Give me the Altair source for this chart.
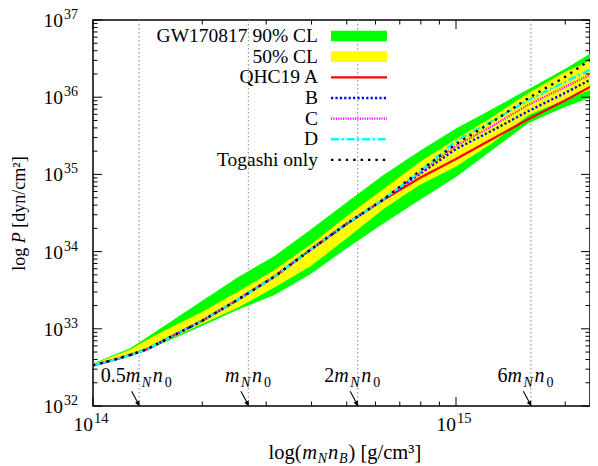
import math
import altair as alt
import pandas as pd

# ---------------- values ----------------
# log10 of mass density [g/cm^3]
log_rho = [14.00, 14.05, 14.10, 14.15, 14.20, 14.30, 14.40, 14.50, 14.60,
           14.70, 14.80, 14.90, 15.00, 15.10, 15.20, 15.30, 15.39]

# GW170817 bands, log10 P [dyn/cm^2]
gw90_lo = [32.525, 32.585, 32.654, 32.725, 32.829, 33.036, 33.250, 33.438, 33.710,
           34.047, 34.364, 34.668, 34.966, 35.316, 35.666, 35.873, 36.028]
gw90_hi = [32.551, 32.648, 32.742, 32.894, 33.049, 33.360, 33.671, 33.943, 34.286,
           34.642, 34.992, 35.303, 35.595, 35.847, 36.106, 36.365, 36.624]
gw50_lo = [32.526, 32.588, 32.655, 32.732, 32.842, 33.062, 33.276, 33.535, 33.813,
           34.176, 34.552, 34.863, 35.102, 35.407, 35.769, 35.964, 36.132]
gw50_hi = [32.544, 32.635, 32.725, 32.861, 32.984, 33.218, 33.483, 33.762, 34.092,
           34.461, 34.811, 35.161, 35.459, 35.744, 36.054, 36.326, 36.521]

# EOS curves, log10 P [dyn/cm^2]
qhc19_a = [32.527, 32.589, 32.657, 32.738, 32.861, 33.101, 33.380, 33.677, 34.027,
           34.364, 34.670, 34.953, 35.199, 35.459, 35.718, 35.957, 36.184]
qhc19_b = [32.527, 32.589, 32.657, 32.738, 32.861, 33.101, 33.380, 33.677, 34.027,
           34.364, 34.675, 35.005, 35.329, 35.569, 35.821, 36.054, 36.275]
qhc19_c = [32.527, 32.589, 32.657, 32.738, 32.861, 33.101, 33.380, 33.677, 34.027,
           34.364, 34.675, 35.018, 35.368, 35.627, 35.905, 36.132, 36.339]
qhc19_d = [32.527, 32.589, 32.657, 32.738, 32.861, 33.101, 33.380, 33.677, 34.027,
           34.364, 34.675, 35.031, 35.433, 35.692, 35.964, 36.197, 36.404]
togashi = [32.527, 32.589, 32.657, 32.738, 32.861, 33.101, 33.380, 33.677, 34.027,
           34.364, 34.675, 35.044, 35.394, 35.679, 35.990, 36.262, 36.547]

band_names = ["GW170817 90% CL", "50% CL"]
series_names = ["QHC19 A", "B", "C", "D", "Togashi only"]
series_values = [qhc19_a, qhc19_b, qhc19_c, qhc19_d, togashi]

mN_n0 = 2.68e14                      # g/cm^3
density_multiples = [0.5, 1, 2, 6]

x_major = [1e14, 1e15]
x_minor = [2e14, 3e14, 4e14, 5e14, 6e14, 7e14, 8e14, 9e14, 2e15]
y_major = [1e32, 1e33, 1e34, 1e35, 1e36, 1e37]
y_minor = [m * 10.0 ** e for e in range(32, 37) for m in range(2, 10)]

x_title_parts = ["log(", "m", "N", "n", "B", ") [g/cm³]"]
y_title_parts = ["log", "P", "[dyn/cm²]"]

# ---------------- styles / layout ----------------
FONT = "Liberation Serif"
W, H = 497, 386
PX_PER_DECADE = 363.0
x_max = 10 ** (14 + W / PX_PER_DECADE)
xs = alt.Scale(type="log", domain=[1e14, x_max])
ys = alt.Scale(type="log", domain=[1e32, 1e37])


def X(field):
    return alt.X(field, type="quantitative", scale=xs, axis=None)


def Y(field):
    return alt.Y(field, type="quantitative", scale=ys, axis=None)


line_styles = [
    dict(color="#ff0000", strokeWidth=2.3),
    dict(color="#0000ff", strokeWidth=2.4, strokeDash=[2.2, 2.2]),
    dict(color="#ff00ff", strokeWidth=2.2, strokeDash=[1.2, 1.2]),
    dict(color="#00ffff", strokeWidth=2.4, strokeDash=[8, 2.5, 2.5, 2.5]),
    dict(color="#000000", strokeWidth=2.4, strokeDash=[2.4, 5]),
]
band_colors = ["#00ff00", "#ffff00"]

rho = [10 ** v for v in log_rho]
band = pd.DataFrame({
    "rho": rho,
    "lo90": [10 ** v for v in gw90_lo], "hi90": [10 ** v for v in gw90_hi],
    "lo50": [10 ** v for v in gw50_lo], "hi50": [10 ** v for v in gw50_hi],
})

layers = []

# vertical reference densities
label_nudge_px = {0.5: 10.0}
dens = pd.DataFrame({
    "rho": [k * mN_n0 for k in density_multiples],
    "rho_lab": [k * mN_n0 * 10 ** (label_nudge_px.get(k, 0.0) / PX_PER_DECADE)
                for k in density_multiples],
    "prefix": ["" if k == 1 else f"{k:g}" for k in density_multiples],
})
layers.append(alt.Chart(dens).mark_rule(color="#9a9a9a", strokeDash=[1.5, 2.5], strokeWidth=1.2)
              .encode(x=X("rho")))

# bands
layers.append(alt.Chart(band).mark_area(color=band_colors[0], opacity=1, clip=True)
              .encode(x=X("rho"), y=Y("lo90"), y2="hi90:Q"))
layers.append(alt.Chart(band).mark_area(color=band_colors[1], opacity=1, clip=True)
              .encode(x=X("rho"), y=Y("lo50"), y2="hi50:Q"))

# EOS lines
for name, vals, st in zip(series_names, series_values, line_styles):
    df = pd.DataFrame({"rho": rho, "P": [10 ** v for v in vals], "series": name})
    layers.append(alt.Chart(df).mark_line(clip=True, **st).encode(x=X("rho"), y=Y("P")))


# inward ticks on all four sides
def x_ticks(vals, L):
    d = pd.DataFrame({"v": vals})
    return [alt.Chart(d).mark_rule(color="black", strokeWidth=1)
            .encode(x=X("v"), y=alt.value(y0), y2=alt.value(y1))
            for y0, y1 in [(H, H - L), (0, L)]]


def y_ticks(vals, L):
    d = pd.DataFrame({"v": vals})
    return [alt.Chart(d).mark_rule(color="black", strokeWidth=1)
            .encode(y=Y("v"), x=alt.value(x0), x2=alt.value(x1))
            for x0, x1 in [(0, L), (W, W - L)]]


layers += x_ticks(x_major, 9) + x_ticks(x_minor, 4.5)
layers += y_ticks(y_major, 9) + y_ticks(y_minor, 4.5)

# tick labels 10^k composed of base and raised exponent
xl = pd.DataFrame({"v": x_major, "e": [str(round(math.log10(v))) for v in x_major]})
yl = pd.DataFrame({"v": y_major, "e": [str(round(math.log10(v))) for v in y_major]})
layers.append(alt.Chart(xl).mark_text(align="right", baseline="alphabetic", font=FONT,
                                      fontSize=19.5, color="black")
              .encode(x=X("v"), y=alt.value(H + 24.5), text=alt.value("10")))
layers.append(alt.Chart(xl).mark_text(align="left", baseline="alphabetic", dx=1, font=FONT,
                                      fontSize=14.5, color="black")
              .encode(x=X("v"), y=alt.value(H + 16.5), text="e:N"))
layers.append(alt.Chart(yl).mark_text(align="right", baseline="middle", font=FONT,
                                      fontSize=19.5, color="black", dy=1)
              .encode(y=Y("v"), x=alt.value(-30), text=alt.value("10")))
layers.append(alt.Chart(yl).mark_text(align="right", baseline="middle", font=FONT,
                                      fontSize=14, color="black", dy=-5)
              .encode(y=Y("v"), x=alt.value(-15), text="e:N"))

# density labels  (prefix + m_N n_0) and arrows
BASE, SUB = 362, 367
layers.append(alt.Chart(dens).mark_text(align="right", baseline="alphabetic", dx=-23.5,
                                        font=FONT, fontSize=20, color="black")
              .encode(x=X("rho_lab"), y=alt.value(BASE), text="prefix:N"))
for txt, dx, size, style, yy in [("m", -23.5, 20, "italic", BASE), ("N", -7.5, 14, "italic", SUB),
                                 ("n", 3.5, 20, "italic", BASE), ("0", 15.5, 14, "normal", SUB)]:
    layers.append(alt.Chart(dens).mark_text(align="left", baseline="alphabetic", dx=dx,
                                            font=FONT, fontSize=size, fontStyle=style, color="black")
                  .encode(x=X("rho_lab"), y=alt.value(yy), text=alt.value(txt)))
ARROW = "M-0.94,-0.875L0,0.875M0,0.875L-0.389,0.574L-0.037,0.384Z"
layers.append(alt.Chart(dens).mark_point(shape=ARROW, size=256, filled=True, fill="black",
                                         stroke="black", strokeWidth=1.1, opacity=1)
              .encode(x=X("rho"), y=alt.value(378.3)))

# legend (labels right-aligned, samples to the right)
LX, SX0, SX1, LY0, LDY = 225, 238, 294, 16, 20.65
legend_names = band_names + series_names
for i, name in enumerate(legend_names):
    yc = LY0 + LDY * i
    d = pd.DataFrame({"label": [name]})
    layers.append(alt.Chart(d).mark_text(align="right", baseline="middle", font=FONT,
                                         fontSize=19.5, color="black")
                  .encode(x=alt.value(LX), y=alt.value(yc), text="label:N"))
    if i < len(band_names):
        layers.append(alt.Chart(d).mark_rect(color=band_colors[i], opacity=1)
                      .encode(x=alt.value(SX0), x2=alt.value(SX1),
                              y=alt.value(yc - 5.3), y2=alt.value(yc + 5.3)))
    else:
        st = line_styles[i - len(band_names)]
        layers.append(alt.Chart(d).mark_rule(**st)
                      .encode(x=alt.value(SX0), x2=alt.value(SX1), y=alt.value(yc)))

# axis titles composed from text pieces (subscripts / italics)
x_pos = [175.6, 209.3, 224.8, 235, 246, 255.5]
x_fmt = [(20.5, "normal", 439), (20.5, "italic", 439), (14, "italic", 442.5),
         (20.5, "italic", 439), (14, "italic", 442.5), (20.5, "normal", 439)]
for txt, px, (size, style, yy) in zip(x_title_parts, x_pos, x_fmt):
    d = pd.DataFrame({"t": [txt]})
    layers.append(alt.Chart(d).mark_text(align="left", baseline="alphabetic", font=FONT,
                                         fontSize=size, fontStyle=style, color="black")
                  .encode(x=alt.value(px), y=alt.value(yy), text="t:N"))
y_pos = [250.7, 223.2, 207.7]
y_style = ["normal", "italic", "normal"]
for txt, py, style in zip(y_title_parts, y_pos, y_style):
    d = pd.DataFrame({"t": [txt]})
    layers.append(alt.Chart(d).mark_text(align="left", baseline="middle", angle=270, font=FONT,
                                         fontSize=18, fontStyle=style, color="black")
                  .encode(x=alt.value(-73), y=alt.value(py), text="t:N"))

chart = (alt.layer(*layers)
         .properties(width=W, height=H,
                     padding={"left": 85, "top": 12, "right": 0, "bottom": 60},
                     autosize=alt.AutoSizeParams(type="none"))
         .configure_view(stroke="black", strokeWidth=1.5))

chart.save("out.html", embed_options={"renderer": "svg", "actions": False})
